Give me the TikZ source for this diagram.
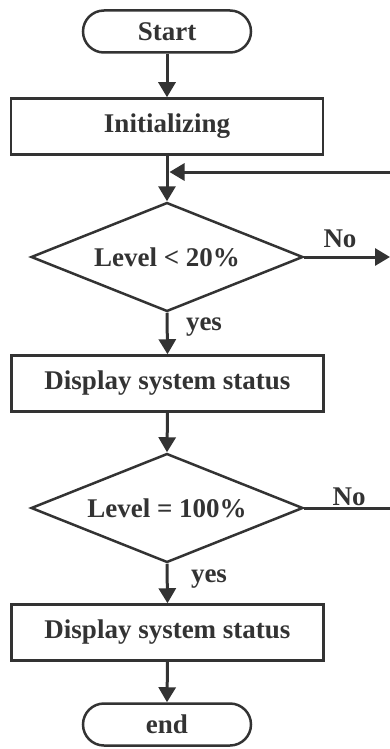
\documentclass[tikz,border=0pt]{standalone}
\usepackage{fontspec}
\setmainfont{Liberation Serif}
\usetikzlibrary{shapes.geometric,arrows.meta}
\definecolor{ink}{HTML}{333333}
\tikzset{
  every node/.style={font=\fontsize{27}{30}\selectfont\bfseries, text=ink},
  term/.style={draw=ink, line width=2.5pt, rectangle, rounded corners=21pt, minimum width=168pt, minimum height=42pt, inner sep=0pt},
  procbox/.style={draw=ink, line width=2.5pt, rectangle, minimum width=312pt, minimum height=56pt, inner sep=0pt},
  decide/.style={draw=ink, line width=2.5pt, diamond, aspect=2.5, minimum width=272pt, minimum height=109pt, inner sep=0pt},
  flow/.style={draw=ink, line width=3pt, -{Triangle[length=15pt,width=17pt]}},
  plain/.style={draw=ink, line width=3pt},
  lbl/.style={inner sep=0pt}
}
\begin{document}
\begin{tikzpicture}[x=1pt,y=-1pt]
\useasboundingbox (0,0) rectangle (390,749);
\node[term] (start) at (167,31.5) {Start};
\node[procbox] (init) at (167,126.5) {Initializing};
\node[decide] (d1) at (167,257) {Level < 20\%};
\node[procbox] (disp1) at (167.5,383.5) {Display system status};
\node[decide] (d2) at (167,508) {Level = 100\%};
\node[procbox] (disp2) at (167.5,632.5) {Display system status};
\node[term] (end) at (167,724.5) {end};

\coordinate (fbin) at (392,172);
\coordinate (join) at (169.5,172);
\coordinate (no1) at (390,257);
\coordinate (no2) at (392,508);

\draw[flow] (start.south) -- (init.north);
\draw[flow] (init.south) -- (d1.north);
\draw[flow] (fbin) -- (join);
\draw[flow] (d1.east) -- (no1);
\draw[flow] (d1.south) -- (disp1.north);
\draw[flow] (disp1.south) -- (d2.north);
\draw[plain] (d2.east) -- (no2);
\draw[flow] (d2.south) -- (disp2.north);
\draw[flow] (disp2.south) -- (end.north);

\node[lbl] (no1lbl) at (340,239) {No};
\node[lbl] (yes1lbl) at (204,327) {yes};
\node[lbl] (no2lbl) at (349,497) {No};
\node[lbl] (yes2lbl) at (209,579) {yes};
\end{tikzpicture}
\end{document}
